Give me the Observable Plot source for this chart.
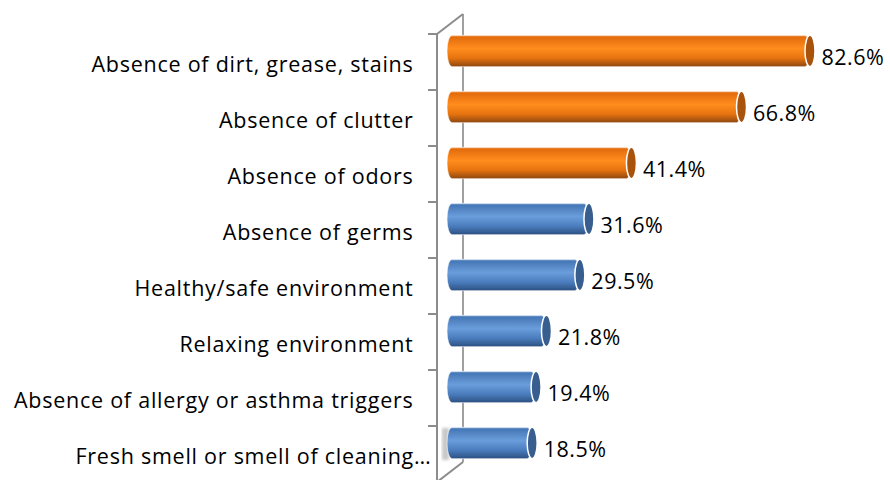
<!DOCTYPE html>
<html><head><meta charset="utf-8">
<script src="https://cdn.jsdelivr.net/npm/d3@7"></script>
<script src="https://cdn.jsdelivr.net/npm/@observablehq/plot@0.6"></script>
<style>
body{margin:0;background:#fff}
#chart{width:890px;height:480px;overflow:hidden}
g[aria-label="y-axis tick label"] text{letter-spacing:0.75px}
g[aria-label="text"] text{letter-spacing:0.5px}
</style>
</head><body><div id="chart"></div>
<script>
const categories = [
  "Absence of dirt, grease, stains",
  "Absence of clutter",
  "Absence of odors",
  "Absence of germs",
  "Healthy/safe environment",
  "Relaxing environment",
  "Absence of allergy or asthma triggers",
  "Fresh smell or smell of cleaning…"
];
const values = [82.6, 66.8, 41.4, 31.6, 29.5, 21.8, 19.4, 18.5];
const groups = ["top", "top", "top", "other", "other", "other", "other", "other"];

const data = categories.map((c, i) => ({category: c, value: values[i], group: groups[i]}));

const bodyFill = {top: "url(#gradOrange)", other: "url(#gradBlue)"};
const capFill = {top: "#A8520C", other: "#385E90"};

const inset = 12.3, shift = -11;
const barMarks = [];
for (const g of ["top", "other"]) {
  barMarks.push(Plot.barX(data, {
    filter: d => d.group === g,
    x1: 0, x2: "value", y: "category",
    fill: bodyFill[g], insetTop: inset, insetBottom: inset, insetLeft: -5,
    dy: shift, rx: 5, ry: 16, stroke: "#ffffff", strokeOpacity: 0.6, strokeWidth: 1
  }));
  barMarks.push(Plot.barX(data, {
    filter: d => d.group === g,
    x1: "value", x2: "value", y: "category",
    fill: capFill[g], insetTop: inset, insetBottom: inset, insetLeft: -5, insetRight: -5,
    dy: shift, rx: 5, ry: 16, stroke: "#ffffff", strokeWidth: 1.5
  }));
}

const chart = Plot.plot({
  width: 890, height: 480,
  marginLeft: 452, marginRight: 4.6, marginTop: 32, marginBottom: 0,
  x: {domain: [0, 100], axis: null},
  y: {domain: categories, range: [32, 484], padding: 0, axis: null},
  style: {fontFamily: "'Open Sans', sans-serif", fontSize: "21.5px", color: "#000", background: "transparent", overflow: "visible"},
  marks: [
    Plot.axisY({tickSize: 0, tickPadding: 39, fontSize: 21.5, label: null, dy: 3}),
    ...barMarks,
    Plot.text(data, {x: "value", y: "category", text: d => d.value.toFixed(1) + "%", textAnchor: "start", dx: 11, dy: -4, fontSize: 21.5, fill: "#000"})
  ]
});

document.getElementById("chart").appendChild(chart);

// gradients + 3D frame built from the plot's own scales
const svg = d3.select(chart);
const defs = svg.insert("defs", ":first-child");
function grad(id, stops) {
  const lg = defs.append("linearGradient").attr("id", id).attr("x1", 0).attr("y1", 0).attr("x2", 0).attr("y2", 1);
  stops.forEach(([o, c]) => lg.append("stop").attr("offset", o).attr("stop-color", c));
}
grad("gradOrange", [[0, "#F2A462"], [0.06, "#E36C0C"], [0.42, "#FF8C1E"], [0.72, "#E8740F"], [1, "#8E4710"]]);
grad("gradBlue", [[0, "#8CB0DC"], [0.06, "#4677B6"], [0.42, "#6A9DDB"], [0.72, "#4C7EBF"], [1, "#2C5080"]]);
defs.append("filter").attr("id", "soft").append("feGaussianBlur").attr("stdDeviation", 1.6);

// the truncated last label sits further right, as in the original
const labels = svg.selectAll('g[aria-label="y-axis tick label"] text').nodes();
const last = d3.select(labels[labels.length - 1]);
last.attr("dx", 18);

const xs = chart.scale("x"), ys = chart.scale("y");
const x0 = xs.apply(0);
const bw = ys.bandwidth;
const yTop = ys.apply(categories[0]);
const yBot = ys.apply(categories[categories.length - 1]) + bw;
const front = x0 - 15, back = x0 + 11, depth = 20;
const frame = svg.insert("g", "defs + *").attr("stroke", "#8C8C8C").attr("stroke-width", 2).attr("fill", "none");
// soft shadow of the lowest bar on the side wall
const yl = ys.apply(categories[categories.length - 1]) + bw / 2 + shift;
frame.append("rect").attr("x", x0 - 10).attr("y", yl - 15).attr("width", 7).attr("height", 32)
  .attr("fill", "#C8C8C8").attr("stroke", "none").attr("filter", "url(#soft)");
frame.append("line").attr("x1", front).attr("x2", front).attr("y1", yTop).attr("y2", yBot);
frame.append("line").attr("x1", back).attr("x2", back).attr("y1", yTop - depth).attr("y2", yBot - depth).attr("stroke", "#A0A0A0");
frame.append("line").attr("x1", front).attr("x2", back).attr("y1", yTop).attr("y2", yTop - depth);
frame.append("line").attr("x1", front).attr("x2", back).attr("y1", yBot).attr("y2", yBot - depth);
categories.forEach(c => {
  const yb = ys.apply(c);
  frame.append("line").attr("x1", front - 9).attr("x2", front).attr("y1", yb).attr("y2", yb);
});
</script>
</body></html>
